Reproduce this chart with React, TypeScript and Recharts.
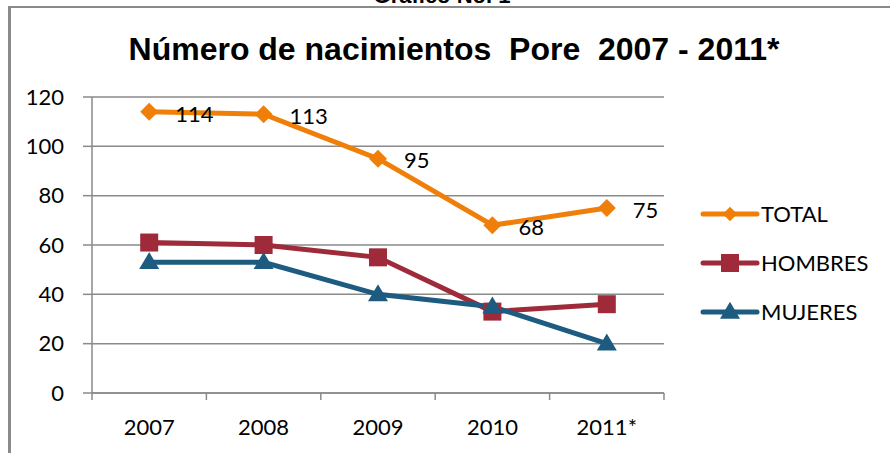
import React from "react";
import {
  LineChart,
  Line,
  XAxis,
  YAxis,
  CartesianGrid,
  Legend,
  LabelList,
} from "recharts";

const years = ["2007", "2008", "2009", "2010", "2011*"];
const totalValues = [114, 113, 95, 68, 75];
const hombresValues = [61, 60, 55, 33, 36];
const mujeresValues = [53, 53, 40, 35, 20];
const yTicks = [0, 20, 40, 60, 80, 100, 120];

const ORANGE = "#F07F09";
const RED = "#9E2A3A";
const BLUE = "#1D5B80";
const GRAY = "#8A8A8A";
const LABEL_FONT = "Lato, 'Open Sans', sans-serif";

const data = years.map((year, i) => ({
  year,
  total: totalValues[i],
  hombres: hombresValues[i],
  mujeres: mujeresValues[i],
}));

type Shape = "diamond" | "square" | "triangle";

function marker(shape: Shape, cx: number, cy: number, fill: string, s = 1) {
  if (shape === "diamond") {
    const r = 9 * s;
    return (
      <path
        d={`M${cx},${cy - r}L${cx + r},${cy}L${cx},${cy + r}L${cx - r},${cy}Z`}
        fill={fill}
      />
    );
  }
  if (shape === "square") {
    const h = 9 * s;
    return <rect x={cx - h} y={cy - h} width={h * 2} height={h * 2} fill={fill} />;
  }
  const w = 10 * s;
  const h = 17 * s;
  return (
    <path
      d={`M${cx},${cy - h * 0.6}L${cx + w},${cy + h * 0.4}L${cx - w},${cy + h * 0.4}Z`}
      fill={fill}
    />
  );
}

const makeDot = (shape: Shape, fill: string) => (props: any) => {
  const { cx, cy, index } = props;
  if (cx == null || cy == null) return <g key={index} />;
  return <g key={`${shape}-${index}`}>{marker(shape, cx, cy, fill)}</g>;
};

const XTick = (props: any) => {
  const { x, y, payload, index, visibleTicksCount } = props;
  const off = payload.offset ?? 0;
  return (
    <g>
      <line x1={x - off} x2={x - off} y1={y} y2={y + 7} stroke={GRAY} strokeWidth={1.5} />
      {index === visibleTicksCount - 1 && (
        <line x1={x + off} x2={x + off} y1={y} y2={y + 7} stroke={GRAY} strokeWidth={1.5} />
      )}
      <text
        x={x}
        y={y + 26}
        dy="0.71em"
        textAnchor="middle"
        fill="#000"
        fontSize={22}
        fontFamily={LABEL_FONT}
      >
        {payload.value}
      </text>
    </g>
  );
};

const legendItems: { name: string; color: string; shape: Shape }[] = [
  { name: "TOTAL", color: ORANGE, shape: "diamond" },
  { name: "HOMBRES", color: RED, shape: "square" },
  { name: "MUJERES", color: BLUE, shape: "triangle" },
];

const LegendContent = (props: any) => {
  const payload = props.payload || [];
  return (
    <div>
      {legendItems
        .filter((item) => payload.some((p: any) => p.value === item.name))
        .map((item) => (
          <div
            key={item.name}
            style={{ display: "flex", alignItems: "center", height: 49 }}
          >
            <svg width={60} height={24}>
              <line
                x1={3}
                x2={57}
                y1={12}
                y2={12}
                stroke={item.color}
                strokeWidth={5}
                strokeLinecap="round"
              />
              {marker(item.shape, 30, 12, item.color, item.shape === "diamond" ? 0.8 : 1)}
            </svg>
            <span
              style={{
                fontFamily: LABEL_FONT,
                fontSize: 22,
                color: "#000",
                marginLeft: 1,
              }}
            >
              {item.name}
            </span>
          </div>
        ))}
    </div>
  );
};

export default function App() {
  return (
    <div
      style={{
        position: "absolute",
        left: 0,
        top: 0,
        width: 890,
        height: 453,
        background: "#fff",
        overflow: "hidden",
      }}
    >
      <div
        style={{
          position: "absolute",
          left: 8,
          top: 6,
          width: 890,
          height: 460,
          borderTop: `2px solid ${GRAY}`,
          borderLeft: `3px solid ${GRAY}`,
        }}
      />
      <svg
        width={890}
        height={80}
        style={{ position: "absolute", left: 0, top: 0 }}
      >
        <text
          x={442}
          y={3}
          textAnchor="middle"
          fontFamily="'Liberation Sans', Arial, sans-serif"
          fontWeight="bold"
          fontSize={22}
          fill="#000"
        >
          Gráfico No. 1
        </text>
        <text
          x={454}
          y={60}
          textAnchor="middle"
          fontFamily="'Liberation Sans', Arial, sans-serif"
          fontWeight="bold"
          fontSize={32}
          fill="#000"
          style={{ whiteSpace: "pre" }}
        >
          {"Número de nacimientos  Pore  2007 - 2011*"}
        </text>
      </svg>
      <div style={{ position: "absolute", left: 0, top: 0 }}>
        <LineChart
          width={890}
          height={453}
          data={data}
          margin={{ top: 97, right: 226, bottom: 20, left: 32 }}
        >
          <CartesianGrid vertical={false} stroke={GRAY} strokeWidth={1.5} />
          <XAxis
            dataKey="year"
            scale="band"
            height={40}
            tickLine={false}
            tickSize={0}
            tickMargin={0}
            axisLine={{ stroke: GRAY, strokeWidth: 1.5 }}
            tick={<XTick />}
          />
          <YAxis
            width={60}
            domain={[0, 120]}
            ticks={yTicks}
            interval={0}
            tickSize={9}
            tickMargin={19}
            tickLine={{ stroke: GRAY, strokeWidth: 1.5 }}
            axisLine={{ stroke: GRAY, strokeWidth: 1.5 }}
            tick={{ fill: "#000", fontSize: 22, fontFamily: LABEL_FONT }}
          />
          <Legend
            layout="vertical"
            align="center"
            verticalAlign="middle"
            wrapperStyle={{ left: 700, top: 189, width: 180 }}
            content={<LegendContent />}
          />
          <Line
            dataKey="total"
            name="TOTAL"
            stroke={ORANGE}
            strokeWidth={5}
            dot={makeDot("diamond", ORANGE)}
            activeDot={false}
            isAnimationActive={false}
          >
            <LabelList
              dataKey="total"
              position="right"
              offset={26}
              fill="#000"
              fontSize={22}
              fontFamily={LABEL_FONT}
              dy={2}
            />
          </Line>
          <Line
            dataKey="hombres"
            name="HOMBRES"
            stroke={RED}
            strokeWidth={5}
            dot={makeDot("square", RED)}
            activeDot={false}
            isAnimationActive={false}
          />
          <Line
            dataKey="mujeres"
            name="MUJERES"
            stroke={BLUE}
            strokeWidth={5}
            dot={makeDot("triangle", BLUE)}
            activeDot={false}
            isAnimationActive={false}
          />
        </LineChart>
      </div>
    </div>
  );
}
